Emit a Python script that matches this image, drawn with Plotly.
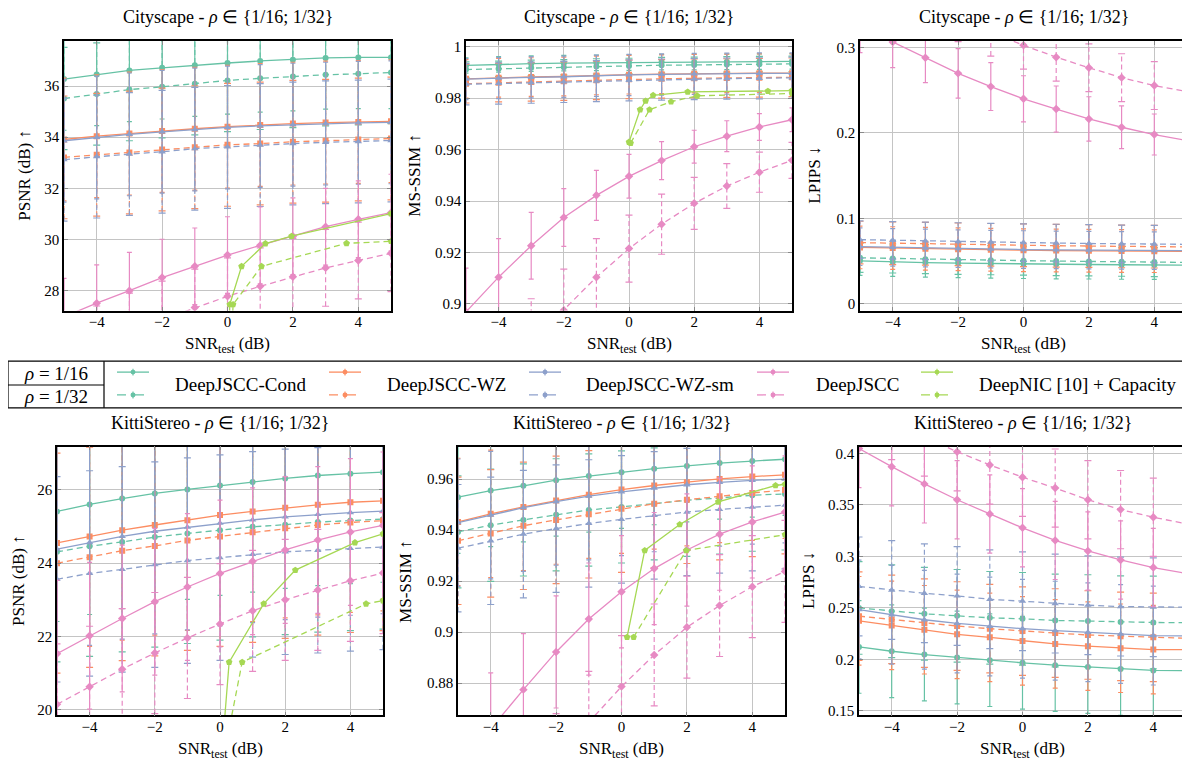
import plotly.graph_objects as go

# page is 1190x766; the html body adds an 8px margin, so the figure is drawn 8px in
PAGE_W, PAGE_H = 1190, 766
OFF = 8
W, H = PAGE_W - OFF, PAGE_H - OFF

# ---------------- data ----------------
SNR = [-5, -4, -3, -2, -1, 0, 1, 2, 3, 4, 5]
X_TICKS = [-4, -2, 0, 2, 4]
X_TICK_TEXT = ["−4", "−2", "0", "2", "4"]

# Cityscape PSNR
CS_PSNR_COND_16 = [36.27, 36.45, 36.61, 36.71, 36.81, 36.90, 36.98, 37.03, 37.10, 37.12, 37.12]
CS_PSNR_COND_32 = [35.51, 35.69, 35.86, 35.97, 36.09, 36.22, 36.30, 36.37, 36.44, 36.48, 36.53]
CS_PSNR_WZ_16 = [33.91, 34.04, 34.14, 34.24, 34.33, 34.41, 34.48, 34.53, 34.57, 34.59, 34.62]
CS_PSNR_WZ_32 = [33.21, 33.31, 33.40, 33.52, 33.61, 33.70, 33.75, 33.82, 33.86, 33.91, 33.95]
CS_PSNR_WZSM_16 = [33.86, 33.99, 34.11, 34.21, 34.30, 34.38, 34.44, 34.49, 34.53, 34.56, 34.58]
CS_PSNR_WZSM_32 = [33.12, 33.24, 33.34, 33.43, 33.55, 33.62, 33.69, 33.75, 33.80, 33.83, 33.87]
CS_PSNR_DJ_16 = [26.98, 27.51, 28.00, 28.51, 28.95, 29.39, 29.77, 30.13, 30.50, 30.79, 31.05]
CS_PSNR_DJ_32 = [25.30, 25.90, 26.40, 26.87, 27.34, 27.78, 28.17, 28.54, 28.89, 29.18, 29.46]
CS_PSNR_NIC_16_X = [0.04, 0.07, 0.43, 1.16, 1.96, 5.0]
CS_PSNR_NIC_16 = [26.0, 27.46, 28.95, 29.84, 30.13, 31.01]
CS_PSNR_NIC_32_X = [0.13, 0.17, 1.04, 3.64, 5.0]
CS_PSNR_NIC_32 = [26.0, 27.46, 28.95, 29.85, 29.93]
CS_PSNR_ERR = {"cond": 2.0, "wz": 2.4, "wzsm": 2.4, "dj16": 1.5, "dj32": 1.5}

# Cityscape MS-SSIM
CS_MS_COND_16 = [0.9927, 0.9931, 0.9934, 0.9936, 0.9937, 0.9938, 0.9940, 0.9940, 0.9941, 0.9942, 0.9943]
CS_MS_COND_32 = [0.9911, 0.9914, 0.9918, 0.9920, 0.9923, 0.9925, 0.9928, 0.9929, 0.9931, 0.9932, 0.9933]
CS_MS_WZ_16 = [0.9875, 0.9879, 0.9882, 0.9884, 0.9888, 0.9891, 0.9893, 0.9895, 0.9896, 0.9897, 0.9897]
CS_MS_WZ_32 = [0.9856, 0.9860, 0.9863, 0.9866, 0.9869, 0.9873, 0.9875, 0.9877, 0.9878, 0.9879, 0.9881]
CS_MS_WZSM_16 = [0.9874, 0.9878, 0.9881, 0.9883, 0.9887, 0.9890, 0.9892, 0.9894, 0.9895, 0.9896, 0.9896]
CS_MS_WZSM_32 = [0.9854, 0.9857, 0.9860, 0.9863, 0.9866, 0.9869, 0.9872, 0.9874, 0.9876, 0.9877, 0.9879]
CS_MS_DJ_16 = [0.8969, 0.9104, 0.9226, 0.9336, 0.9422, 0.9496, 0.9557, 0.9611, 0.9652, 0.9688, 0.9716]
CS_MS_DJ_32 = [0.856, 0.871, 0.885, 0.8975, 0.9104, 0.9215, 0.9310, 0.9391, 0.9458, 0.9512, 0.9558]
CS_MS_DJ_16_ERR = [0.017, 0.015, 0.013, 0.0112, 0.0097, 0.0085, 0.0074, 0.0064, 0.006, 0.0052, 0.0046]
CS_MS_DJ_32_ERR = [0.022, 0.02, 0.017, 0.016, 0.015, 0.013, 0.0117, 0.0101, 0.0087, 0.0078, 0.007]
CS_MS_NIC_16_X = [0.0, 0.34, 0.51, 0.74, 1.8, 4.26, 5.0]
CS_MS_NIC_16 = [0.9629, 0.9755, 0.9789, 0.9811, 0.9824, 0.9827, 0.9829]
CS_MS_NIC_32_X = [0.05, 0.63, 1.29, 2.09, 5.0]
CS_MS_NIC_32 = [0.9625, 0.9755, 0.9786, 0.9809, 0.9818]
CS_MS_ERR = {"cond": 0.003, "wz": 0.0075, "wzsm": 0.008}

# Cityscape LPIPS
CS_LP_COND_16 = [0.0503, 0.0490, 0.0482, 0.0476, 0.0470, 0.0466, 0.0462, 0.0460, 0.0457, 0.0455, 0.0453]
CS_LP_COND_32 = [0.0538, 0.0530, 0.0522, 0.0515, 0.0510, 0.0505, 0.0500, 0.0496, 0.0492, 0.0488, 0.0484]
CS_LP_WZ_16 = [0.0660, 0.0652, 0.0645, 0.0638, 0.0632, 0.0627, 0.0623, 0.0620, 0.0618, 0.0616, 0.0615]
CS_LP_WZ_32 = [0.0716, 0.0709, 0.0702, 0.0696, 0.0690, 0.0685, 0.0680, 0.0676, 0.0672, 0.0669, 0.0666]
CS_LP_WZSM_16 = [0.0668, 0.0660, 0.0653, 0.0646, 0.0640, 0.0635, 0.0631, 0.0628, 0.0625, 0.0623, 0.0621]
CS_LP_WZSM_32 = [0.0751, 0.0743, 0.0736, 0.0729, 0.0722, 0.0716, 0.0711, 0.0706, 0.0702, 0.0699, 0.0696]
CS_LP_DJ_16 = [0.325, 0.3066, 0.288, 0.2698, 0.2543, 0.240, 0.228, 0.2164, 0.2067, 0.1982, 0.1912]
CS_LP_DJ_32 = [0.392, 0.372, 0.353, 0.335, 0.318, 0.3027, 0.2888, 0.2764, 0.2648, 0.2555, 0.2485]
CS_LP_DJ_16_ERR = [0.031, 0.030, 0.029, 0.029, 0.028, 0.027, 0.027, 0.026, 0.025, 0.024, 0.024]
CS_LP_ERR = {"cond": 0.017, "wz": 0.025, "wzsm": 0.022, "dj32": 0.028}

# KittiStereo PSNR
KT_PSNR_COND_16 = [25.41, 25.60, 25.76, 25.90, 26.01, 26.12, 26.21, 26.31, 26.39, 26.44, 26.48]
KT_PSNR_COND_32 = [24.31, 24.46, 24.58, 24.71, 24.81, 24.90, 24.99, 25.05, 25.12, 25.16, 25.20]
KT_PSNR_WZ_16 = [24.55, 24.73, 24.90, 25.04, 25.17, 25.31, 25.41, 25.51, 25.59, 25.66, 25.70]
KT_PSNR_WZ_32 = [24.00, 24.16, 24.34, 24.47, 24.62, 24.73, 24.84, 24.95, 25.04, 25.11, 25.16]
KT_PSNR_WZSM_16 = [24.38, 24.56, 24.73, 24.87, 24.98, 25.09, 25.18, 25.26, 25.33, 25.38, 25.42]
KT_PSNR_WZSM_32 = [23.56, 23.72, 23.83, 23.96, 24.07, 24.15, 24.24, 24.31, 24.35, 24.40, 24.44]
KT_PSNR_DJ_16 = [21.53, 22.02, 22.49, 22.95, 23.35, 23.72, 24.05, 24.36, 24.63, 24.85, 25.03]
KT_PSNR_DJ_32 = [20.15, 20.63, 21.11, 21.55, 21.96, 22.34, 22.70, 23.00, 23.27, 23.52, 23.73]
KT_PSNR_NIC_16_X = [0.10, 0.28, 1.34, 2.31, 4.14, 5.0]
KT_PSNR_NIC_16 = [19.28, 21.30, 22.89, 23.81, 24.56, 24.80]
KT_PSNR_NIC_32_X = [0.30, 0.68, 4.48, 5.0]
KT_PSNR_NIC_32 = [19.57, 21.30, 22.89, 22.98]
KT_PSNR_ERR = {"cond": 3.0, "wz": 3.0, "wzsm": 2.8, "dj16": 2.0, "dj32": 1.65}

# KittiStereo MS-SSIM
KT_MS_COND_16 = [0.9529, 0.9555, 0.9574, 0.9596, 0.9612, 0.9627, 0.9641, 0.9652, 0.9663, 0.9671, 0.9678]
KT_MS_COND_32 = [0.9393, 0.9419, 0.9440, 0.9460, 0.9479, 0.9491, 0.9503, 0.9517, 0.9526, 0.9537, 0.9542]
KT_MS_WZ_16 = [0.9432, 0.9464, 0.9491, 0.9516, 0.9539, 0.9559, 0.9575, 0.9588, 0.9601, 0.9610, 0.9617]
KT_MS_WZ_32 = [0.9358, 0.9387, 0.9417, 0.9440, 0.9462, 0.9484, 0.9503, 0.9519, 0.9533, 0.9546, 0.9557]
KT_MS_WZSM_16 = [0.9429, 0.9459, 0.9488, 0.9512, 0.9533, 0.9550, 0.9565, 0.9578, 0.9587, 0.9595, 0.9600]
KT_MS_WZSM_32 = [0.9329, 0.9358, 0.9384, 0.9406, 0.9426, 0.9442, 0.9458, 0.9471, 0.9481, 0.9490, 0.9498]
KT_MS_DJ_16 = [0.845, 0.862, 0.8774, 0.8922, 0.9051, 0.9158, 0.9249, 0.9322, 0.9384, 0.9432, 0.9471]
KT_MS_DJ_32 = [0.79, 0.81, 0.83, 0.848, 0.8646, 0.8786, 0.8910, 0.9019, 0.9104, 0.9178, 0.9238]
KT_MS_NIC_16_X = [0.17, 0.71, 1.78, 2.96, 4.71, 5.0]
KT_MS_NIC_16 = [0.898, 0.932, 0.9422, 0.9511, 0.9575, 0.958]
KT_MS_NIC_32_X = [0.37, 1.98, 5.0]
KT_MS_NIC_32 = [0.898, 0.932, 0.9382]
KT_MS_ERR = {"cond": 0.022, "wz": 0.025, "wzsm": 0.025, "dj16": 0.022, "dj32": 0.02}

# KittiStereo LPIPS
KT_LP_COND_16 = [0.2120, 0.2078, 0.2046, 0.2017, 0.1991, 0.1966, 0.1943, 0.1924, 0.1905, 0.1892, 0.1889]
KT_LP_COND_32 = [0.2499, 0.2467, 0.2442, 0.2422, 0.2403, 0.2393, 0.2377, 0.2371, 0.2361, 0.2358, 0.2355]
KT_LP_WZ_16 = [0.2374, 0.2329, 0.2287, 0.2242, 0.2213, 0.2178, 0.2149, 0.2127, 0.2107, 0.2094, 0.2094]
KT_LP_WZ_32 = [0.2419, 0.2387, 0.2352, 0.2323, 0.2297, 0.2274, 0.2255, 0.2236, 0.2223, 0.2213, 0.2204]
KT_LP_WZSM_16 = [0.2483, 0.2432, 0.2384, 0.2348, 0.2319, 0.2297, 0.2278, 0.2262, 0.2245, 0.2230, 0.2226]
KT_LP_WZSM_32 = [0.2708, 0.2673, 0.2641, 0.2615, 0.2583, 0.2564, 0.2541, 0.2525, 0.2512, 0.2506, 0.2506]
KT_LP_DJ_16 = [0.4048, 0.3871, 0.3704, 0.3550, 0.3412, 0.3277, 0.3155, 0.3052, 0.2965, 0.2891, 0.2834]
KT_LP_DJ_32 = [0.45, 0.432, 0.416, 0.4016, 0.3888, 0.3769, 0.3663, 0.3550, 0.3454, 0.3380, 0.3316]
KT_LP_ERR = {"cond": 0.045, "wz": 0.043, "wzsm": 0.048, "dj16": 0.038, "dj32": 0.038}

# tick labels
Y_TICKS = [
    [28, 30, 32, 34, 36],
    [0.9, 0.92, 0.94, 0.96, 0.98, 1.0],
    [0, 0.1, 0.2, 0.3],
    [20, 22, 24, 26],
    [0.88, 0.9, 0.92, 0.94, 0.96],
    [0.15, 0.2, 0.25, 0.3, 0.35, 0.4],
]
Y_TICK_TEXT = [
    ["28", "30", "32", "34", "36"],
    ["0.9", "0.92", "0.94", "0.96", "0.98", "1"],
    ["0", "0.1", "0.2", "0.3"],
    ["20", "22", "24", "26"],
    ["0.88", "0.9", "0.92", "0.94", "0.96"],
    ["0.15", "0.2", "0.25", "0.3", "0.35", "0.4"],
]
Y_RANGES = [
    [27.22, 37.77],
    [0.8974, 1.0023],
    [-0.008, 0.308],
    [19.85, 27.18],
    [0.8673, 0.9728],
    [0.1455, 0.4067],
]
Y_TITLES = ["PSNR (dB) ↑", "MS-SSIM ↑", "LPIPS ↓", "PSNR (dB) ↑", "MS-SSIM ↑", "LPIPS ↓"]
TITLES = ["Cityscape - <i>ρ</i> ∈ {1/16; 1/32}"] * 3 + ["KittiStereo - <i>ρ</i> ∈ {1/16; 1/32}"] * 3
X_TITLE = "SNR<sub>test</sub> (dB)"
METHOD_LABELS = ["DeepJSCC-Cond", "DeepJSCC-WZ", "DeepJSCC-WZ-sm", "DeepJSCC", "DeepNIC [10] + Capacity"]
RHO_LABELS = ["<i>ρ</i> = 1/16", "<i>ρ</i> = 1/32"]

# ---------------- style ----------------
FONT = "Liberation Serif, Times New Roman, serif"
METHODS = ["cond", "wz", "wzsm", "dj", "nic"]
COLORS = {"cond": "#66c2a5", "wz": "#fc8d62", "wzsm": "#8da0cb", "dj": "#e78ac3", "nic": "#a6d854"}
SYMBOLS = {"cond": "circle", "wz": "square", "wzsm": "triangle-up", "dj": "diamond", "nic": "pentagon"}
SIZES = {"cond": 6, "wz": 6, "wzsm": 6.5, "dj": 6.5, "nic": 7}
DASH = "6px,4px"

# plot frames in page pixels: (x0, x1, ytop, ybottom)
FRAMES = [
    (64, 391, 39, 311), (466, 792, 39, 311), (860, 1187, 39, 311),
    (57, 383, 448, 719), (458, 785, 448, 719), (859, 1186, 448, 719),
]
YTITLE_X = [25, 415, 815, 19, 406, 809]

fig = go.Figure()


def axname(i):
    return "" if i == 1 else str(i)


def add(i, method, x, y, dashed, err=None):
    c = COLORS[method]
    xa, ya = "x" + axname(i), "y" + axname(i)
    err_kw = {}
    if err is not None:
        arr = err if isinstance(err, list) else [err] * len(y)
        if dashed:
            # dashed error bars (built from the data points and their errors)
            ex, ey, cx, cy = [], [], [], []
            for xv, yv, ev in zip(x, y, arr):
                ex += [xv, xv, None]
                ey += [yv - ev, yv + ev, None]
                cx += [xv, xv]
                cy += [yv - ev, yv + ev]
            fig.add_trace(go.Scatter(x=ex, y=ey, xaxis=xa, yaxis=ya, mode="lines",
                                     line=dict(color=c, width=1.2, dash="5px,3px"),
                                     showlegend=False, hoverinfo="skip"))
            fig.add_trace(go.Scatter(x=cx, y=cy, xaxis=xa, yaxis=ya, mode="markers",
                                     marker=dict(symbol="line-ew", size=5, color=c,
                                                 line=dict(color=c, width=1.2)),
                                     showlegend=False, hoverinfo="skip"))
        else:
            err_kw = dict(error_y=dict(type="data", array=arr, symmetric=True, color=c,
                                       thickness=1.2, width=2.5))
    fig.add_trace(go.Scatter(
        x=x, y=y, xaxis=xa, yaxis=ya, mode="lines+markers",
        line=dict(color=c, width=1.3, dash=DASH if dashed else "solid"),
        marker=dict(symbol=SYMBOLS[method], size=SIZES[method], color=c, line=dict(width=0)),
        showlegend=False, hoverinfo="skip", **err_kw))


# panel 1
add(1, "cond", SNR, CS_PSNR_COND_16, False, CS_PSNR_ERR["cond"])
add(1, "cond", SNR, CS_PSNR_COND_32, True, CS_PSNR_ERR["cond"])
add(1, "wz", SNR, CS_PSNR_WZ_16, False, CS_PSNR_ERR["wz"])
add(1, "wz", SNR, CS_PSNR_WZ_32, True, CS_PSNR_ERR["wz"])
add(1, "wzsm", SNR, CS_PSNR_WZSM_16, False, CS_PSNR_ERR["wzsm"])
add(1, "wzsm", SNR, CS_PSNR_WZSM_32, True, CS_PSNR_ERR["wzsm"])
add(1, "dj", SNR, CS_PSNR_DJ_16, False, CS_PSNR_ERR["dj16"])
add(1, "dj", SNR, CS_PSNR_DJ_32, True, CS_PSNR_ERR["dj32"])
add(1, "nic", CS_PSNR_NIC_16_X, CS_PSNR_NIC_16, False)
add(1, "nic", CS_PSNR_NIC_32_X, CS_PSNR_NIC_32, True)
# panel 2
add(2, "cond", SNR, CS_MS_COND_16, False, CS_MS_ERR["cond"])
add(2, "cond", SNR, CS_MS_COND_32, True, CS_MS_ERR["cond"])
add(2, "wz", SNR, CS_MS_WZ_16, False, CS_MS_ERR["wz"])
add(2, "wz", SNR, CS_MS_WZ_32, True, CS_MS_ERR["wz"])
add(2, "wzsm", SNR, CS_MS_WZSM_16, False, CS_MS_ERR["wzsm"])
add(2, "wzsm", SNR, CS_MS_WZSM_32, True, CS_MS_ERR["wzsm"])
add(2, "dj", SNR, CS_MS_DJ_16, False, CS_MS_DJ_16_ERR)
add(2, "dj", SNR, CS_MS_DJ_32, True, CS_MS_DJ_32_ERR)
add(2, "nic", CS_MS_NIC_16_X, CS_MS_NIC_16, False)
add(2, "nic", CS_MS_NIC_32_X, CS_MS_NIC_32, True)
# panel 3
add(3, "cond", SNR, CS_LP_COND_16, False, CS_LP_ERR["cond"])
add(3, "cond", SNR, CS_LP_COND_32, True, CS_LP_ERR["cond"])
add(3, "wz", SNR, CS_LP_WZ_16, False, CS_LP_ERR["wz"])
add(3, "wz", SNR, CS_LP_WZ_32, True, CS_LP_ERR["wz"])
add(3, "wzsm", SNR, CS_LP_WZSM_16, False, CS_LP_ERR["wzsm"])
add(3, "wzsm", SNR, CS_LP_WZSM_32, True, CS_LP_ERR["wzsm"])
add(3, "dj", SNR, CS_LP_DJ_16, False, CS_LP_DJ_16_ERR)
add(3, "dj", SNR, CS_LP_DJ_32, True, CS_LP_ERR["dj32"])
# panel 4
add(4, "cond", SNR, KT_PSNR_COND_16, False, KT_PSNR_ERR["cond"])
add(4, "cond", SNR, KT_PSNR_COND_32, True, KT_PSNR_ERR["cond"])
add(4, "wz", SNR, KT_PSNR_WZ_16, False, KT_PSNR_ERR["wz"])
add(4, "wz", SNR, KT_PSNR_WZ_32, True, KT_PSNR_ERR["wz"])
add(4, "wzsm", SNR, KT_PSNR_WZSM_16, False, KT_PSNR_ERR["wzsm"])
add(4, "wzsm", SNR, KT_PSNR_WZSM_32, True, KT_PSNR_ERR["wzsm"])
add(4, "dj", SNR, KT_PSNR_DJ_16, False, KT_PSNR_ERR["dj16"])
add(4, "dj", SNR, KT_PSNR_DJ_32, True, KT_PSNR_ERR["dj32"])
add(4, "nic", KT_PSNR_NIC_16_X, KT_PSNR_NIC_16, False)
add(4, "nic", KT_PSNR_NIC_32_X, KT_PSNR_NIC_32, True)
# panel 5
add(5, "cond", SNR, KT_MS_COND_16, False, KT_MS_ERR["cond"])
add(5, "cond", SNR, KT_MS_COND_32, True, KT_MS_ERR["cond"])
add(5, "wz", SNR, KT_MS_WZ_16, False, KT_MS_ERR["wz"])
add(5, "wz", SNR, KT_MS_WZ_32, True, KT_MS_ERR["wz"])
add(5, "wzsm", SNR, KT_MS_WZSM_16, False, KT_MS_ERR["wzsm"])
add(5, "wzsm", SNR, KT_MS_WZSM_32, True, KT_MS_ERR["wzsm"])
add(5, "dj", SNR, KT_MS_DJ_16, False, KT_MS_ERR["dj16"])
add(5, "dj", SNR, KT_MS_DJ_32, True, KT_MS_ERR["dj32"])
add(5, "nic", KT_MS_NIC_16_X, KT_MS_NIC_16, False)
add(5, "nic", KT_MS_NIC_32_X, KT_MS_NIC_32, True)
# panel 6
add(6, "cond", SNR, KT_LP_COND_16, False, KT_LP_ERR["cond"])
add(6, "cond", SNR, KT_LP_COND_32, True, KT_LP_ERR["cond"])
add(6, "wz", SNR, KT_LP_WZ_16, False, KT_LP_ERR["wz"])
add(6, "wz", SNR, KT_LP_WZ_32, True, KT_LP_ERR["wz"])
add(6, "wzsm", SNR, KT_LP_WZSM_16, False, KT_LP_ERR["wzsm"])
add(6, "wzsm", SNR, KT_LP_WZSM_32, True, KT_LP_ERR["wzsm"])
add(6, "dj", SNR, KT_LP_DJ_16, False, KT_LP_ERR["dj16"])
add(6, "dj", SNR, KT_LP_DJ_32, True, KT_LP_ERR["dj32"])


def px(x):
    return (x - OFF) / W


def py(y):
    return 1 - (y - OFF) / H


layout = dict(
    width=W, height=H, margin=dict(l=0, r=0, t=0, b=0),
    paper_bgcolor="white", plot_bgcolor="white",
    font=dict(family=FONT, color="black", size=15),
    showlegend=False,
)
annotations = []
shapes = []
GRID = "#c4c4c4"
for k, (x0, x1, yt, yb) in enumerate(FRAMES):
    i = k + 1
    n = axname(i)
    common = dict(showgrid=True, gridcolor=GRID, gridwidth=1.3, zeroline=False,
                  showline=True, linecolor="black", linewidth=1.5, mirror="ticks",
                  ticks="inside", ticklen=4, tickcolor="#8a8a8a", tickwidth=1.2,
                  tickfont=dict(family=FONT, size=15, color="black"))
    layout["xaxis" + n] = dict(domain=[px(x0), px(x1)], range=[-5, 5], anchor="y" + n,
                               tickmode="array", tickvals=X_TICKS, ticktext=X_TICK_TEXT,
                               ticklabelstandoff=-3, **common)
    layout["yaxis" + n] = dict(domain=[py(yb), py(yt)], range=Y_RANGES[k], anchor="x" + n,
                               tickmode="array", tickvals=Y_TICKS[k], ticktext=Y_TICK_TEXT[k], **common)
    cx = (x0 + x1) / 2
    cy = (yt + yb) / 2
    annotations.append(dict(text=TITLES[k], x=px(cx), y=py(yt - 24), xref="paper", yref="paper",
                            showarrow=False, xanchor="center", yanchor="middle",
                            font=dict(family=FONT, size=18)))
    annotations.append(dict(text=X_TITLE, x=px(cx), y=py(yb + 35), xref="paper", yref="paper",
                            showarrow=False, xanchor="center", yanchor="middle",
                            font=dict(family=FONT, size=17)))
    annotations.append(dict(text=Y_TITLES[k], x=px(YTITLE_X[k]), y=py(cy), xref="paper", yref="paper",
                            showarrow=False, xanchor="center", yanchor="middle", textangle=-90,
                            font=dict(family=FONT, size=17)))

# ---------------- legend table ----------------
LEG_TOP, LEG_MID, LEG_BOT = 362, 386, 409
LEG_LEFT, LEG_DIV = 8, 104
line_k = dict(color="black", width=1.2)
shapes.append(dict(type="line", xref="paper", yref="paper", x0=px(LEG_LEFT), x1=1.0,
                   y0=py(LEG_TOP), y1=py(LEG_TOP), line=line_k))
shapes.append(dict(type="line", xref="paper", yref="paper", x0=px(LEG_LEFT), x1=1.0,
                   y0=py(LEG_BOT), y1=py(LEG_BOT), line=line_k))
shapes.append(dict(type="line", xref="paper", yref="paper", x0=px(LEG_LEFT), x1=px(LEG_DIV),
                   y0=py(LEG_MID), y1=py(LEG_MID), line=line_k))
for xv in (LEG_LEFT, LEG_DIV):
    shapes.append(dict(type="line", xref="paper", yref="paper", x0=px(xv), x1=px(xv),
                       y0=py(LEG_TOP), y1=py(LEG_BOT), line=line_k))
annotations.append(dict(text=RHO_LABELS[0], x=px((LEG_LEFT + LEG_DIV) / 2), y=py(374), xref="paper",
                        yref="paper", showarrow=False, xanchor="center", yanchor="middle",
                        font=dict(family=FONT, size=19)))
annotations.append(dict(text=RHO_LABELS[1], x=px((LEG_LEFT + LEG_DIV) / 2), y=py(398), xref="paper",
                        yref="paper", showarrow=False, xanchor="center", yanchor="middle",
                        font=dict(family=FONT, size=19)))

SAMPLE_X = [117, 329, 529, 757, 921]
LABEL_X = [173, 385, 584, 814, 977]
for m, sx, lx, lab in zip(METHODS, SAMPLE_X, LABEL_X, METHOD_LABELS):
    c = COLORS[m]
    for yy, dash in ((373, "solid"), (396, "dash")):
        shapes.append(dict(type="line", xref="paper", yref="paper", x0=px(sx), x1=px(sx + 32),
                           y0=py(yy), y1=py(yy), line=dict(color=c, width=1.3, dash=dash)))
        shapes.append(dict(type="line", xref="paper", yref="paper", x0=px(sx + 16), x1=px(sx + 16),
                           y0=py(yy - 3.5), y1=py(yy + 3.5), line=dict(color=c, width=1.1)))
        shapes.append(dict(type="circle", xref="paper", yref="paper", x0=px(sx + 13.5), x1=px(sx + 18.5),
                           y0=py(yy + 2.5), y1=py(yy - 2.5), fillcolor=c, line=dict(width=0)))
    annotations.append(dict(text=lab, x=px(lx), y=py(385), xref="paper", yref="paper",
                            showarrow=False, xanchor="left", yanchor="middle",
                            font=dict(family=FONT, size=19)))

layout["annotations"] = annotations
layout["shapes"] = shapes
fig.update_layout(**layout)
fig.write_html("out.html")
